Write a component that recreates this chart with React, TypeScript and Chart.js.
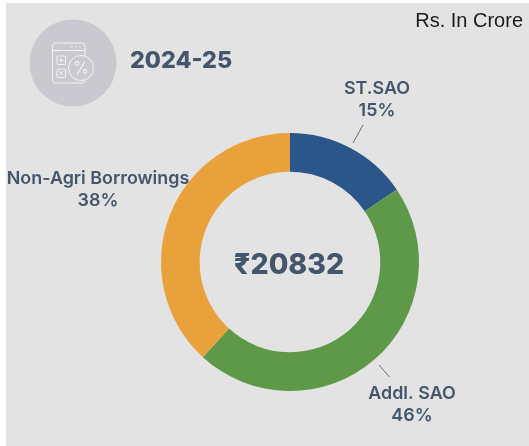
import React, { useEffect, useRef } from "react";
import { Chart, registerables } from "chart.js";

Chart.register(...registerables);

const categories = ["ST.SAO", "Addl. SAO", "Non-Agri Borrowings"];
const shares = [15.5, 46.3, 38.2];
const percentLabels = ["15%", "46%", "38%"];
const colours = ["#2b5689", "#5e9849", "#e9a23b"];
const totalLabel = "₹20832";
const yearLabel = "2024-25";
const unitLabel = "Rs. In Crore";

const TEXT = "#44566c";
const FONT = "Inter, 'Noto Sans', sans-serif";

const labelPos = [
  { x: 377, y1: 89, y2: 111 },
  { x: 412, y1: 394, y2: 416 },
  { x: 98, y1: 179, y2: 201 },
];
const leaders = [
  [363, 125, 353, 143],
  [379, 365, 389.5, 377],
];

function rr(c: CanvasRenderingContext2D, x: number, y: number, w: number, h: number, r: number) {
  c.beginPath();
  c.roundRect(x, y, w, h, r);
  c.stroke();
}

const decor = {
  id: "decor",
  beforeDraw(chart: any) {
    const c: CanvasRenderingContext2D = chart.ctx;
    c.save();
    c.fillStyle = "#e3e3e3";
    c.fillRect(6, 3, 523, 443);
    c.fillStyle = "#c9c9cf";
    c.beginPath();
    c.arc(73, 63, 43.5, 0, Math.PI * 2);
    c.fill();
    c.strokeStyle = "#f4f4f6";
    c.lineWidth = 1;
    rr(c, 52.5, 43, 32.5, 40, 3);
    c.beginPath();
    c.moveTo(53, 50.5);
    c.lineTo(85, 50.5);
    c.stroke();
    c.setLineDash([1.5, 2.5]);
    c.beginPath();
    c.moveTo(71, 47);
    c.lineTo(81, 47);
    c.stroke();
    c.setLineDash([]);
    rr(c, 57, 56, 8.5, 8.5, 1);
    rr(c, 57, 69, 8.5, 8.5, 1);
    c.beginPath();
    c.moveTo(59, 60.2);
    c.lineTo(63.5, 60.2);
    c.moveTo(61.2, 58);
    c.lineTo(61.2, 62.5);
    c.moveTo(59.2, 71.2);
    c.lineTo(63.2, 75.2);
    c.moveTo(63.2, 71.2);
    c.lineTo(59.2, 75.2);
    c.stroke();
    c.fillStyle = "#c9c9cf";
    c.beginPath();
    c.arc(81, 68, 12.5, 0, Math.PI * 2);
    c.fill();
    c.stroke();
    c.lineWidth = 1.2;
    c.beginPath();
    c.moveTo(85, 61.5);
    c.lineTo(77, 74.5);
    c.moveTo(78.8, 63.5);
    c.arc(77, 63.5, 1.8, 0, Math.PI * 2);
    c.moveTo(86.8, 71.5);
    c.arc(85, 71.5, 1.8, 0, Math.PI * 2);
    c.stroke();
    c.restore();
  },
  afterDraw(chart: any) {
    const c: CanvasRenderingContext2D = chart.ctx;
    const cx = (chart.chartArea.left + chart.chartArea.right) / 2;
    const cy = (chart.chartArea.top + chart.chartArea.bottom) / 2;
    c.save();
    c.textBaseline = "middle";
    c.textAlign = "center";
    c.fillStyle = TEXT;
    categories.forEach((name, i) => {
      c.font = `600 17.9px ${FONT}`;
      c.fillText(name, labelPos[i].x, labelPos[i].y1);
      c.fillText(percentLabels[i], labelPos[i].x, labelPos[i].y2);
    });
    c.font = `800 28.5px ${FONT}`;
    c.fillText(totalLabel, cx - 1, cy + 3);
    c.font = `800 23.3px ${FONT}`;
    c.textAlign = "left";
    c.fillText(yearLabel, 130, 61);
    c.font = `400 20px 'Liberation Sans', sans-serif`;
    c.fillStyle = "#1a1a1a";
    c.textAlign = "right";
    c.fillText(unitLabel, 523, 21);
    c.strokeStyle = "#6a6f75";
    c.lineWidth = 1;
    leaders.forEach(([a, b, d, e]) => {
      c.beginPath();
      c.moveTo(a, b);
      c.lineTo(d, e);
      c.stroke();
    });
    c.restore();
  },
};

export default function App() {
  const ref = useRef<HTMLCanvasElement>(null);
  useEffect(() => {
    const chart = new Chart(ref.current!, {
      type: "doughnut",
      data: {
        labels: categories,
        datasets: [{ data: shares, backgroundColor: colours, borderWidth: 0 }],
      },
      options: {
        responsive: false,
        animation: false,
        cutout: "70%",
        layout: { padding: { left: 161, right: 110, top: 133, bottom: 55 } },
        plugins: { legend: { display: false }, tooltip: { enabled: false } },
      },
      plugins: [decor],
    } as any);
    return () => chart.destroy();
  }, []);
  return (
    <div style={{ position: "absolute", left: 0, top: 0, width: 529, height: 446 }}>
      <canvas ref={ref} width={529} height={446} style={{ display: "block" }} />
    </div>
  );
}
